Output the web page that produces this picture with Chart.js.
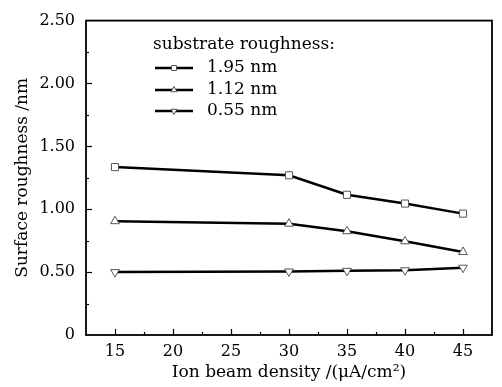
<!DOCTYPE html>
<html>
<head>
<meta charset="utf-8">
<script src="https://cdn.jsdelivr.net/npm/chart.js@4.4.0/dist/chart.umd.min.js"></script>
<style>
  body { margin: 0; background: #fff; }
  #wrap { width: 502px; height: 387px; }
</style>
</head>
<body>
<div id="wrap"><canvas id="line-canvas" width="502" height="387"></canvas></div>
<script>
// ion beam density (uA/cm2)
var density = [15, 30, 35, 40, 45];
// surface roughness (nm) for each substrate roughness
var rough195 = [1.335, 1.27, 1.115, 1.045, 0.965];
var rough112 = [0.905, 0.885, 0.825, 0.745, 0.66];
var rough055 = [0.50, 0.505, 0.51, 0.515, 0.535];
var seriesNames = ["1.95 nm", "1.12 nm", "0.55 nm"];
var xTicks = [15, 20, 25, 30, 35, 40, 45];
var yTicks = [0, 0.5, 1.0, 1.5, 2.0, 2.5];

var FONT = "'DejaVu Serif', 'Liberation Serif', serif";

function pts(vals) {
  return density.map(function(d, i) { return { x: d, y: vals[i] }; });
}

function ds(label, vals, style, rot) {
  return {
    label: label,
    data: pts(vals),
    borderColor: "#000",
    borderWidth: 2.5,
    pointStyle: style,
    rotation: rot,
    pointRadius: 5,
    pointBackgroundColor: "#fff",
    pointBorderColor: "#555",
    pointBorderWidth: 1,
    fill: false,
    tension: 0
  };
}

// inward ticks, frame and legend
var decor = {
  id: "decor",
  afterDraw: function(chart) {
    var c = chart.ctx, a = chart.chartArea;
    var xs = chart.scales.x, ys = chart.scales.y;
    c.save();
    c.strokeStyle = "#000";
    c.lineWidth = 1.2;
    // x ticks (major every 5, minor in between)
    for (var v = 15; v <= 45; v += 2.5) {
      var px = Math.round(xs.getPixelForValue(v)) + 0.5;
      var len = (v % 5 === 0) ? 6 : 3;
      c.beginPath(); c.moveTo(px, a.bottom); c.lineTo(px, a.bottom - len); c.stroke();
    }
    for (var w = 0.25; w < 2.5; w += 0.25) {
      var py = Math.round(ys.getPixelForValue(w)) + 0.5;
      var l2 = (Math.abs(w * 2 - Math.round(w * 2)) < 1e-6) ? 6 : 3;
      c.beginPath(); c.moveTo(a.left, py); c.lineTo(a.left + l2, py); c.stroke();
    }
    c.lineWidth = 1.8;
    c.strokeRect(a.left, a.top, a.right - a.left, a.bottom - a.top);

    // legend
    c.fillStyle = "#000";
    c.font = "17px " + FONT;
    c.textBaseline = "middle";
    c.textAlign = "left";
    c.fillText("substrate roughness:", 153, 45);
    var rowY = [68, 90, 111];
    chart.data.datasets.forEach(function(d, i) {
      var y = rowY[i];
      c.strokeStyle = "#000";
      c.lineWidth = 2.5;
      c.beginPath(); c.moveTo(155, y); c.lineTo(193, y); c.stroke();
      c.fillStyle = "#fff";
      c.strokeStyle = "#555";
      c.lineWidth = 1;
      Chart.helpers.drawPoint(c, { pointStyle: d.pointStyle, rotation: d.rotation, radius: 3.5, borderWidth: 1 }, 174, y);
      c.fillStyle = "#000";
      c.fillText(d.label, 207, y);
    });
    c.restore();
  }
};

var ctx = document.getElementById("line-canvas");

var chart = new Chart(ctx, {
  type: "line",
  data: {
    datasets: [
      ds(seriesNames[0], rough195, "rect", 0),
      ds(seriesNames[1], rough112, "triangle", 0),
      ds(seriesNames[2], rough055, "triangle", 180)
    ]
  },
  options: {
    responsive: false,
    animation: false,
    layout: { padding: { left: 8, right: 10, top: 15, bottom: 0 } },
    plugins: { legend: { display: false }, tooltip: { enabled: false } },
    scales: {
      x: {
        type: "linear",
        min: 12.5,
        max: 47.5,
        afterBuildTicks: function(s) { s.ticks = xTicks.map(function(v) { return { value: v }; }); },
        afterFit: function(s) { s.height = 52; },
        grid: { display: false, drawTicks: false },
        border: { display: false },
        ticks: { color: "#000", font: { family: FONT, size: 16 }, padding: 7, maxRotation: 0 },
        title: { display: true, text: "Ion beam density /(\u03bcA/cm\u00b2)", color: "#000", font: { family: FONT, size: 17 }, padding: { top: 0, bottom: 4 } }
      },
      y: {
        min: 0,
        max: 2.5,
        afterBuildTicks: function(s) { s.ticks = yTicks.map(function(v) { return { value: v }; }); },
        afterFit: function(s) { s.width = 78; },
        grid: { display: false, drawTicks: false },
        border: { display: false },
        ticks: {
          color: "#000", font: { family: FONT, size: 16 }, padding: 11,
          callback: function(v) { return v === 0 ? "0" : v.toFixed(2); }
        },
        title: { display: true, text: "Surface roughness /nm", color: "#000", font: { family: FONT, size: 17 }, padding: { top: 4, bottom: 4 } }
      }
    }
  },
  plugins: [decor]
});
</script>
</body>
</html>
